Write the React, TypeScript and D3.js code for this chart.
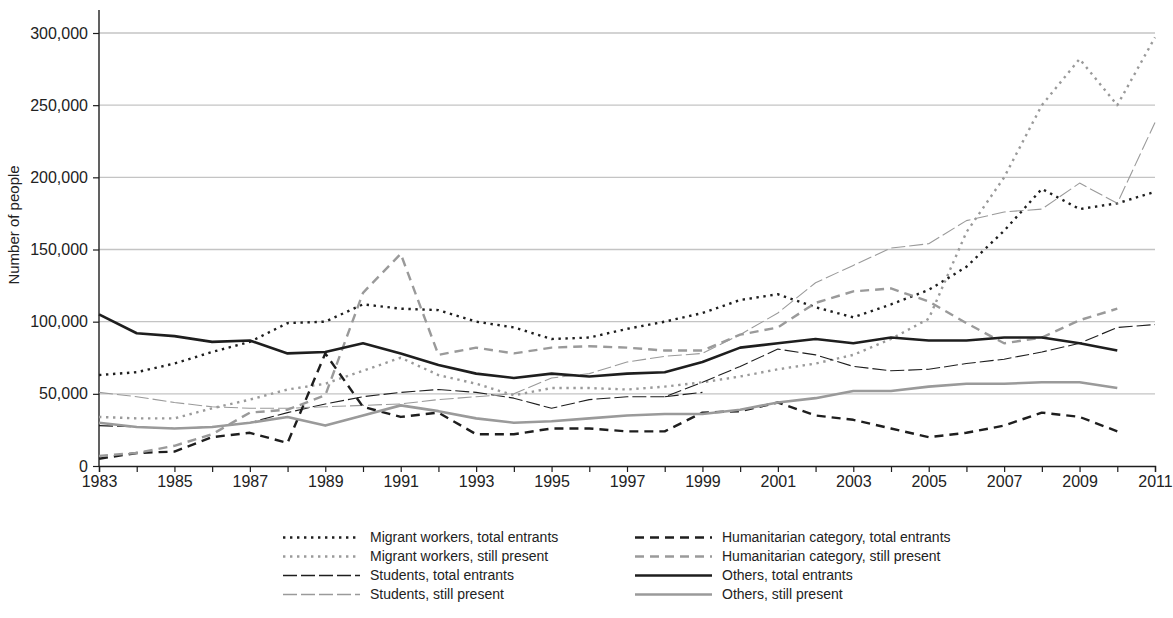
import { useEffect, useRef } from 'react';
import * as d3 from 'd3';

const WIDTH = 1173;
const HEIGHT = 618;
const MARGIN = { top: 33, right: 18, bottom: 152, left: 99 };
const FONT = '"Liberation Sans", Arial, Helvetica, sans-serif';

const years = d3.range(1983, 2012);
const yearTicks = d3.range(1983, 2012, 2);
const valueTicks = [0, 50000, 100000, 150000, 200000, 250000, 300000];

// values, 1983 onward (series ending in 2010 have 28 values)
const migrantTotal = [63, 65, 71, 79, 86, 99, 100, 112, 109, 108, 100, 96, 88, 89, 95, 100, 106, 115, 119, 110, 103, 112, 122, 138, 163, 192, 178, 182, 190];
const migrantStill = [34, 33, 33, 40, 46, 53, 57, 66, 75, 63, 57, 49, 54, 54, 53, 55, 58, 62, 67, 71, 77, 88, 102, 162, 200, 250, 282, 250, 297];
const studentsTotal = [28, 27, 26, 27, 30, 37, 43, 48, 51, 53, 51, 47, 40, 46, 48, 48, 58, 69, 81, 77, 69, 66, 67, 71, 74, 79, 85, 96, 98];
const studentsTotalOld = [48, 51]; // 1998-1999, second line
const studentsStill = [51, 48, 44, 41, 40, 40, 41, 42, 43, 46, 48, 50, 61, 64, 72, 76, 78, 91, 106, 127, 139, 151, 154, 170, 176, 178, 196, 182, 238];
const humanTotal = [5, 9, 10, 20, 23, 16, 78, 41, 34, 37, 22, 22, 26, 26, 24, 24, 37, 38, 44, 35, 32, 26, 20, 23, 28, 37, 34, 24];
const humanStill = [7, 9, 14, 22, 37, 39, 49, 120, 147, 77, 82, 78, 82, 83, 82, 80, 80, 91, 96, 113, 121, 123, 114, 99, 85, 89, 101, 109];
const othersTotal = [105, 92, 90, 86, 87, 78, 79, 85, 78, 70, 64, 61, 64, 62, 64, 65, 72, 82, 85, 88, 85, 89, 87, 87, 89, 89, 85, 80];
const othersStill = [30, 27, 26, 27, 30, 34, 28, 35, 42, 38, 33, 30, 31, 33, 35, 36, 36, 39, 44, 47, 52, 52, 55, 57, 57, 58, 58, 54];

const BLACK = '#1e1e1e';
const GREY = '#9a9a9a';

const series = [
  { name: 'Migrant workers, total entrants', values: migrantTotal, color: BLACK, width: 2.4, dash: '2.4 4.6' },
  { name: 'Migrant workers, still present', values: migrantStill, color: GREY, width: 2.4, dash: '2.4 4.6' },
  { name: 'Students, total entrants', values: studentsTotal, color: BLACK, width: 1.1, dash: '14 4' },
  { name: 'Students, still present', values: studentsStill, color: GREY, width: 1.1, dash: '14 4' },
  { name: 'Humanitarian category, total entrants', values: humanTotal, color: BLACK, width: 2.4, dash: '9 6' },
  { name: 'Humanitarian category, still present', values: humanStill, color: GREY, width: 2.4, dash: '9 6' },
  { name: 'Others, total entrants', values: othersTotal, color: BLACK, width: 2.6, dash: null },
  { name: 'Others, still present', values: othersStill, color: GREY, width: 2.6, dash: null },
];

const legendOrder = [0, 4, 1, 5, 2, 6, 3, 7];

export default function App() {
  const svgRef = useRef(null);

  useEffect(() => {
    const svg = d3.select(svgRef.current);
    svg.selectAll('*').remove();

    const w = WIDTH - MARGIN.left - MARGIN.right;
    const h = HEIGHT - MARGIN.top - MARGIN.bottom;
    const g = svg.append('g').attr('transform', `translate(${MARGIN.left},${MARGIN.top})`);

    const x = d3.scaleLinear().domain([1983, 2011]).range([0, w]);
    const y = d3.scaleLinear().domain([0, 300000]).range([h, 0]);

    // Grid
    g.append('g')
      .selectAll('line')
      .data(valueTicks.slice(1))
      .join('line')
      .attr('x1', 0)
      .attr('x2', w)
      .attr('y1', (d) => y(d))
      .attr('y2', (d) => y(d))
      .attr('stroke', '#c4c4c4')
      .attr('stroke-width', 1.4);

    // Y axis
    const yAxis = g.append('g').call(
      d3.axisLeft(y).tickValues(valueTicks).tickSize(6).tickPadding(5).tickFormat(d3.format(','))
    );
    yAxis.select('.domain').remove();
    g.append('line')
      .attr('x1', 0).attr('x2', 0)
      .attr('y1', y(316000)).attr('y2', h)
      .attr('stroke', BLACK).attr('stroke-width', 1.4);

    // X axis
    const xAxis = g.append('g')
      .attr('transform', `translate(0,${h})`)
      .call(d3.axisBottom(x).tickValues(years).tickSize(6).tickPadding(4)
        .tickFormat((d) => (yearTicks.includes(d) ? String(d) : '')));
    xAxis.select('.domain').attr('stroke', BLACK).attr('stroke-width', 1.4);

    g.selectAll('.tick line').attr('stroke', BLACK).attr('stroke-width', 1.2);
    g.selectAll('.tick text')
      .style('fill', '#222')
      .style('font-family', FONT)
      .style('font-size', '16px');

    // Y label
    svg.append('text')
      .attr('transform', `translate(19,${MARGIN.top + y(167000)}) rotate(-90)`)
      .attr('text-anchor', 'middle')
      .style('font-family', FONT)
      .style('font-size', '15px')
      .style('fill', '#222')
      .text('Number of people');

    const line = d3.line()
      .x((d) => x(d[0]))
      .y((d) => y(d[1] * 1000));

    const drawLine = (s, pts) => {
      const p = g.append('path')
        .datum(pts)
        .attr('d', line)
        .attr('fill', 'none')
        .attr('stroke', s.color)
        .attr('stroke-width', s.width)
        .attr('stroke-linejoin', 'round');
      if (s.dash) p.attr('stroke-dasharray', s.dash);
    };

    series.forEach((s) => {
      drawLine(s, s.values.map((v, i) => [1983 + i, v]));
    });
    drawLine(series[2], studentsTotalOld.map((v, i) => [1998 + i, v]));

    // Legend
    const lg = svg.append('g');
    legendOrder.forEach((idx, k) => {
      const s = series[idx];
      const col = k % 2;
      const row = Math.floor(k / 2);
      const x0 = col === 0 ? 283 : 635;
      const yy = 537.5 + row * 19;
      const l = lg.append('line')
        .attr('x1', x0).attr('x2', x0 + 77)
        .attr('y1', yy).attr('y2', yy)
        .attr('stroke', s.color)
        .attr('stroke-width', Math.max(s.width, 1.4));
      if (s.dash) l.attr('stroke-dasharray', s.dash);
      lg.append('text')
        .attr('x', x0 + 87)
        .attr('y', yy)
        .attr('dy', '0.35em')
        .style('font-family', FONT)
        .style('font-size', '14px')
        .style('fill', '#222')
        .text(s.name);
    });
  }, []);

  return (
    <svg
      ref={svgRef}
      width={WIDTH}
      height={HEIGHT}
      style={{ position: 'absolute', left: 0, top: 0, background: '#fff' }}
    />
  );
}
